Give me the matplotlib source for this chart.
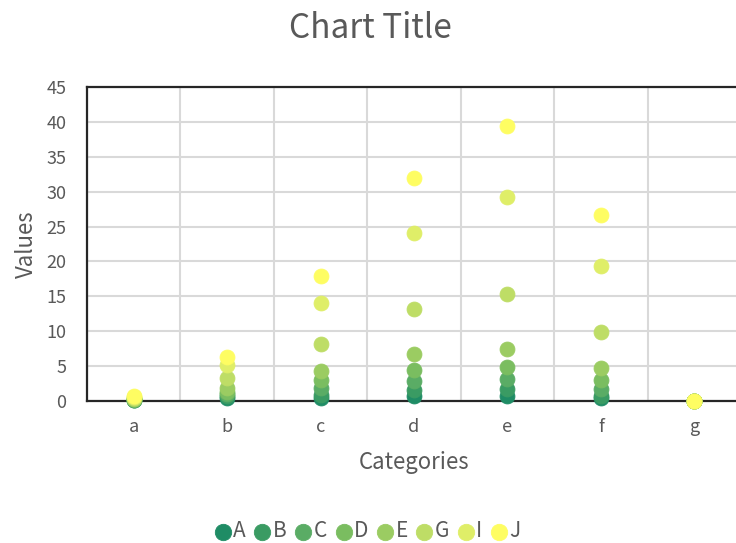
import matplotlib
matplotlib.use("Agg")
import matplotlib.pyplot as plt
from matplotlib.ticker import MultipleLocator

plt.rcParams['font.family'] = ['Noto Sans CJK SC', 'DejaVu Sans']
plt.rcParams['font.weight'] = 'light'

categories = ['a', 'b', 'c', 'd', 'e', 'f', 'g']
series_names = ['A', 'B', 'C', 'D', 'E', 'G', 'I', 'J']
series_values = {
    'A': [0.1, 0.4, 0.38, 0.72, 0.72, 0.38, 0.0],
    'B': [0.15, 0.7, 0.86, 1.58, 1.67, 0.72, 0.0],
    'C': [0.2, 1.0, 1.8, 2.86, 3.1, 1.67, 0.0],
    'D': [0.25, 1.3, 3.0, 4.5, 4.9, 3.0, 0.0],
    'E': [0.3, 1.8, 4.35, 6.68, 7.4, 4.68, 0.0],
    'G': [0.4, 3.25, 8.17, 13.2, 15.3, 9.84, 0.0],
    'I': [0.55, 5.16, 14.0, 24.1, 29.2, 19.4, 0.0],
    'J': [0.76, 6.35, 17.95, 31.9, 39.4, 26.7, 0.0],
}
series_colors = ['#1f8c65', '#3a9b63', '#5aac65', '#7abd60', '#9bcc62',
                 '#bedd66', '#dfee68', '#fefd62']
y_ticks = [0, 5, 10, 15, 20, 25, 30, 35, 40, 45]

text_color = '#595959'

fig = plt.figure(figsize=(7.36, 5.43), dpi=100)
ax = fig.add_axes([87 / 736, 1 - 401 / 543, 654 / 736, 314 / 543])

x = list(range(len(categories)))
for name, color in zip(series_names, series_colors):
    ax.scatter(x, series_values[name], s=115, color=color, label=name,
               zorder=3, linewidths=0.6, edgecolors=color, clip_on=False)

ax.set_xlim(-0.5, len(categories) - 0.5)
ax.set_ylim(0, 45)
ax.set_yticks(y_ticks)
ax.set_xticks(x)
ax.set_xticklabels(categories)
ax.xaxis.set_minor_locator(MultipleLocator(1, offset=0.5))

ax.grid(axis='y', which='major', color='#d9d9d9', linewidth=1.5, zorder=0)
ax.grid(axis='x', which='minor', color='#d9d9d9', linewidth=1.5, zorder=0)
ax.set_axisbelow(True)

ax.tick_params(axis='both', which='both', length=0, colors=text_color,
               labelsize=13)
ax.tick_params(axis='y', pad=15)
ax.tick_params(axis='x', pad=12)

for side in ['left', 'top', 'bottom']:
    ax.spines[side].set_color('#262626')
    ax.spines[side].set_linewidth(1.6)
ax.spines['right'].set_visible(False)

ax.set_xlabel('Categories', fontsize=16, color=text_color, labelpad=11)
ax.set_ylabel('Values', fontsize=16, color=text_color, labelpad=6)

fig.text(370 / 736, 1 - 29 / 543, 'Chart Title', fontsize=24,
         color=text_color, ha='center', va='center')

leg = fig.legend(loc='center', bbox_to_anchor=(367 / 736, 1 - 531 / 543),
                 ncol=len(series_names), frameon=False, fontsize=15,
                 handletextpad=0.05, columnspacing=0.35, markerscale=1.1,
                 handlelength=0.9)
for t in leg.get_texts():
    t.set_color(text_color)

fig.savefig('out.png', dpi=100)
